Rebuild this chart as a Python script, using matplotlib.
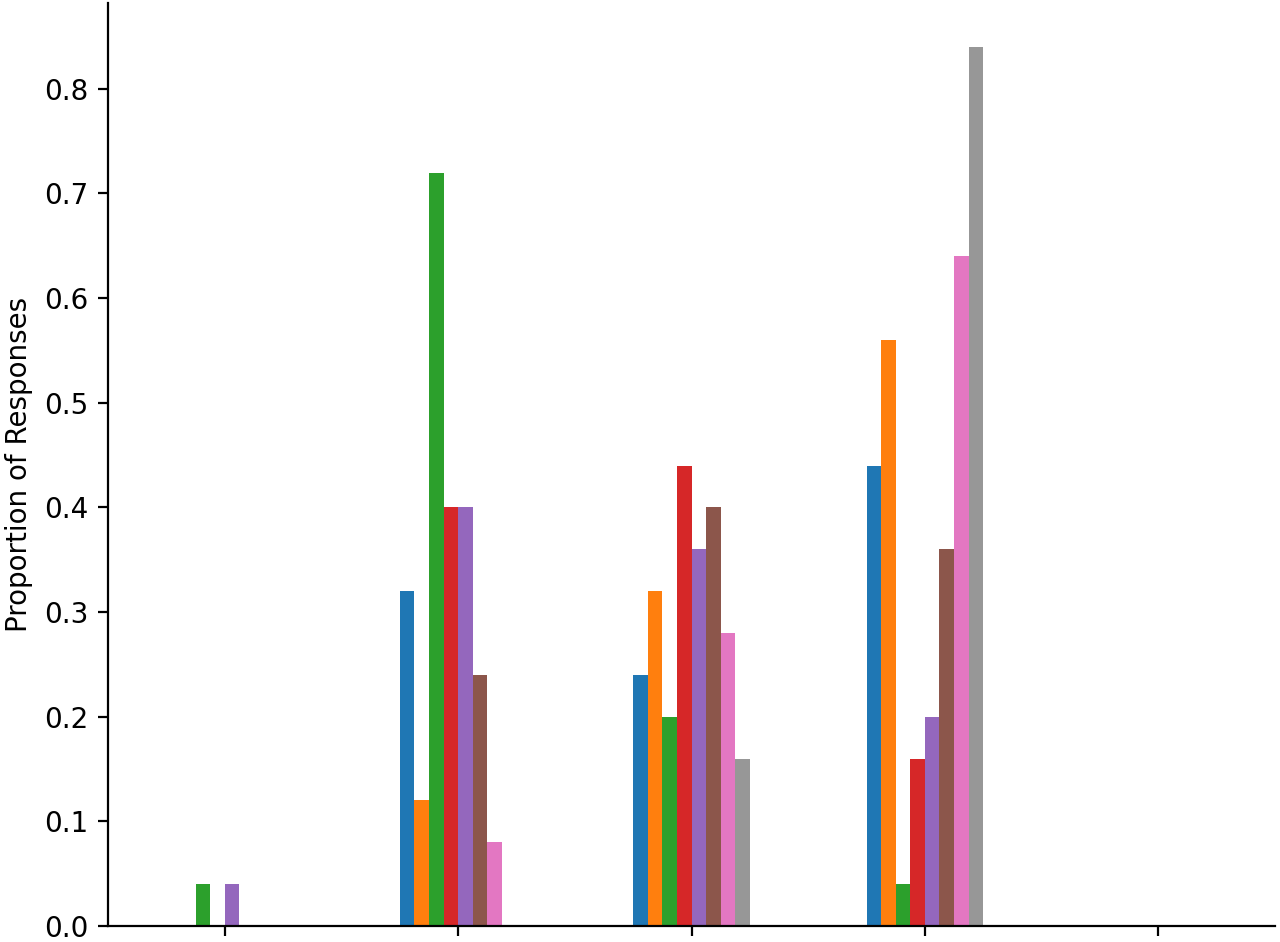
import numpy as np
import matplotlib
matplotlib.use("Agg")
import matplotlib.pyplot as plt

# proportion of responses per group, one list per series (tab10 order)
groups = [0, 1, 2, 3, 4]
blue = [0.00, 0.32, 0.24, 0.44, 0.00]
orange = [0.00, 0.12, 0.32, 0.56, 0.00]
green = [0.04, 0.72, 0.20, 0.04, 0.00]
red = [0.00, 0.40, 0.44, 0.16, 0.00]
purple = [0.04, 0.40, 0.36, 0.20, 0.00]
brown = [0.00, 0.24, 0.40, 0.36, 0.00]
pink = [0.00, 0.08, 0.28, 0.64, 0.00]
gray = [0.00, 0.00, 0.16, 0.84, 0.00]

series = [blue, orange, green, red, purple, brown, pink, gray]
colors = ["tab:blue", "tab:orange", "tab:green", "tab:red",
          "tab:purple", "tab:brown", "tab:pink", "#979797"]

fig, ax = plt.subplots(figsize=(6.4, 4.71), dpi=200)
x = np.array(groups, dtype=float)
n = len(series)
width = 0.5 / n
for i, (vals, c) in enumerate(zip(series, colors)):
    offset = (i - (n - 1) / 2) * width
    ax.bar(x + offset, vals, width=width, color=c)

ax.set_xlim(-0.5, 4.5)
ax.set_xticks(x)
ax.set_xticklabels([])
ax.set_ylabel("Proportion of Responses")
ax.spines["top"].set_visible(False)
ax.spines["right"].set_visible(False)

fig.subplots_adjust(left=0.0845, right=0.996, bottom=0.017, top=0.9968)
fig.savefig("out.png", dpi=200)
